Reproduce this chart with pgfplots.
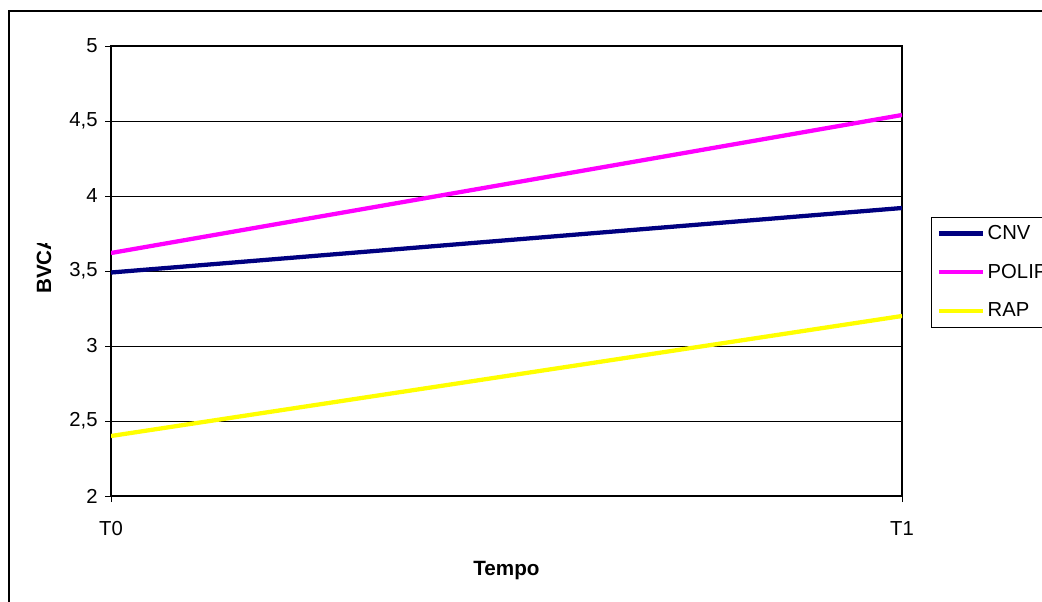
\documentclass[border=0pt]{standalone}
\usepackage{pgfplots}
\pgfplotsset{compat=1.18}
\usepackage{fontspec}
\setmainfont{Liberation Sans}

\definecolor{cnv}{RGB}{0,0,128}
\definecolor{polip}{RGB}{255,0,255}
\definecolor{rap}{RGB}{255,255,0}

\newcommand{\tickfont}{\fontsize{15.2pt}{17.5pt}\selectfont}
\newcommand{\labelfont}{\fontsize{15.5pt}{18pt}\selectfont\bfseries}

\begin{document}
\begin{tikzpicture}[x=0.75pt,y=0.75pt]
% page size: 1042 x 601 units
\useasboundingbox (0,0) rectangle (1042,601);
% outer chart frame (only left and top edges fall inside the page)
\draw[line width=1.4pt] (9,-5) -- (9,590) -- (1050,590);

\begin{axis}[
  at={(83.25pt,78.75pt)}, anchor=south west,
  scale only axis,
  width=593.25pt, height=337.5pt,
  xmin=0, xmax=1, ymin=2, ymax=5,
  xtick={0,1}, xticklabels={T0,T1},
  ytick={2,2.5,...,5},
  ymajorgrids,
  major grid style={black, line width=0.6pt},
  axis line style={black, line width=1.1pt},
  tick style={black, line width=0.6pt},
  tick align=outside,
  major tick length=4.5pt,
  xtick pos=bottom, ytick pos=left,
  yticklabel={\pgfmathprintnumber[fixed,use comma,assume math mode=true]{\tick}},
  ticklabel style={font=\tickfont},
  yticklabel style={xshift=-2pt},
  xticklabel style={yshift=-11pt},
  xlabel={Tempo},
  xlabel style={font=\labelfont, yshift=-12pt},
  legend style={at={(1.0367,0.62)}, anchor=north west, draw=black, line width=0.6pt,
    inner xsep=4pt, inner ysep=4pt, row sep=13pt,
    font=\tickfont, cells={anchor=west}},
  legend image code/.code={\draw[#1, line width=3.2pt] (0pt,0pt) -- (33pt,0pt);},
]
\addplot[cnv, line width=3.2pt] coordinates {(0,3.49) (1,3.92)};
\addlegendentry{CNV}
\addplot[polip, line width=3.2pt] coordinates {(0,3.62) (1,4.54)};
\addlegendentry{POLIP}
\addplot[rap, line width=3.2pt] coordinates {(0,2.40) (1,3.20)};
\addlegendentry{RAP}
\end{axis}

% y-axis title, partly cut off at the top
\begin{scope}
\clip (0,280) rectangle (100,358);
\node[rotate=90, anchor=west, inner sep=0pt, font=\labelfont] at (44,307) {BVCA};
\end{scope}
\end{tikzpicture}
\end{document}
